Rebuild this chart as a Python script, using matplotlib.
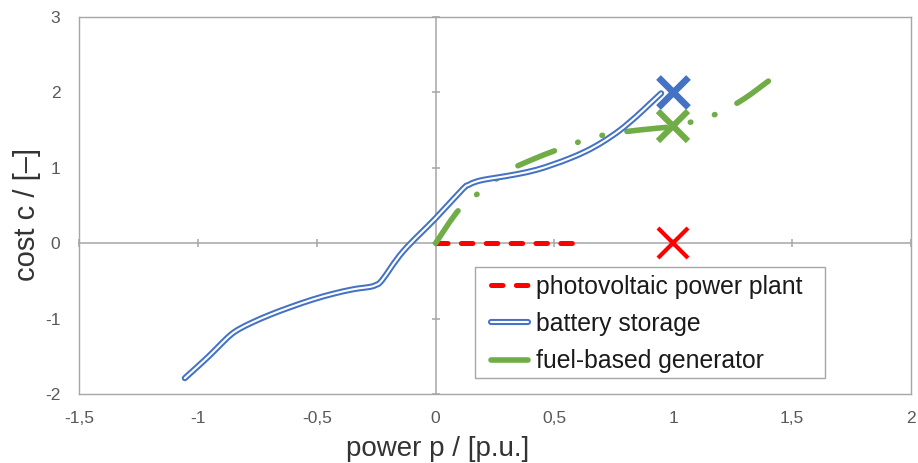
import matplotlib
matplotlib.use("Agg")
import matplotlib.pyplot as plt
import matplotlib.patheffects as pe
from matplotlib.patches import Rectangle, PathPatch
from matplotlib.path import Path
from matplotlib.lines import Line2D

plt.rcParams['font.family'] = ['Liberation Sans', 'DejaVu Sans']
plt.rcParams['lines.scale_dashes'] = False

# ---------------- data ----------------
pv_x = [0.0, 0.6]
pv_y = [0.0, 0.0]

battery_x = [-1.055, -0.978, -0.935, -0.894, -0.858, -0.823, -0.767, -0.697, -0.613,
             -0.515, -0.43, -0.361, -0.318, -0.277, -0.252, -0.225,
             -0.137, 0.003, 0.115, 0.14, 0.165, 0.2, 0.257, 0.341,
             0.424, 0.495, 0.564, 0.636, 0.704, 0.776, 0.844, 0.902, 0.949]
battery_y = [-1.79, -1.57, -1.44, -1.31, -1.205, -1.133, -1.045, -0.95, -0.85,
             -0.745, -0.67, -0.62, -0.597, -0.58, -0.555, -0.49,
             -0.11, 0.34, 0.72, 0.775, 0.81, 0.84, 0.87, 0.915,
             0.973, 1.045, 1.125, 1.225, 1.345, 1.50, 1.68, 1.85, 1.988]

fuel_x = [0.0, 0.1, 0.2, 0.3, 0.4, 0.5, 0.6, 0.7, 0.8, 0.9, 1.0, 1.1, 1.2, 1.3, 1.4]
fuel_y = [0.0, 0.45, 0.71, 0.95, 1.10, 1.225, 1.34, 1.43, 1.48, 1.515, 1.55, 1.63, 1.74, 1.92, 2.15]

marker_x = [1.0, 1.0, 1.0]
marker_y = [0.0, 2.0, 1.55]

series_names = ['photovoltaic power plant', 'battery storage', 'fuel-based generator']

x_ticks = [-1.5, -1.0, -0.5, 0.0, 0.5, 1.0, 1.5, 2.0]
x_tick_labels = ['-1,5', '-1', '-0,5', '0', '0,5', '1', '1,5', '2']
y_ticks = [-2, -1, 0, 1, 2, 3]
y_tick_labels = ['-2', '-1', '0', '1', '2', '3']

x_label = 'power p / [p.u.]'
y_label = 'cost c / [–]'


def smooth_path(xs, ys):
    """Excel-like smoothed line: Catmull-Rom segments drawn as cubic Beziers."""
    pts = list(zip(xs, ys))
    n = len(pts)
    verts = [pts[0]]
    codes = [Path.MOVETO]
    for i in range(n - 1):
        p0 = pts[i - 1] if i > 0 else pts[i]
        p1 = pts[i]
        p2 = pts[i + 1]
        p3 = pts[i + 2] if i + 2 < n else pts[i + 1]
        c1 = (p1[0] + (p2[0] - p0[0]) / 6, p1[1] + (p2[1] - p0[1]) / 6)
        c2 = (p2[0] - (p3[0] - p1[0]) / 6, p2[1] - (p3[1] - p1[1]) / 6)
        verts += [c1, c2, p2]
        codes += [Path.CURVE4] * 3
    return Path(verts, codes)


# ---------------- styling ----------------
W, H = 918, 463
RED = '#FF0000'
BLUE = '#4472C4'
GREEN = '#70AD47'
GRID = '#A6A6A6'
TXT = '#595959'

fig = plt.figure(figsize=(W / 100, H / 100), dpi=100)
pos = [79 / W, 1 - 394 / H, (911 - 79) / W, (394 - 17) / H]

# background axes: zero lines with crossing ticks
axb = fig.add_axes(pos, zorder=0)
axb.set_xlim(-1.5, 2)
axb.set_ylim(-2, 3)
axb.spines['left'].set_position(('data', 0))
axb.spines['bottom'].set_position(('data', 0))
axb.spines['top'].set_visible(False)
axb.spines['right'].set_visible(False)
for s in ('left', 'bottom'):
    axb.spines[s].set_color(GRID)
    axb.spines[s].set_linewidth(1.1)
axb.set_xticks(x_ticks)
axb.set_yticks(y_ticks)
axb.tick_params(direction='inout', length=5.8, width=1.1, color=GRID,
                labelbottom=False, labelleft=False)

# main axes
ax = fig.add_axes(pos, zorder=1)
ax.patch.set_alpha(0)
ax.set_xlim(-1.5, 2)
ax.set_ylim(-2, 3)
for s in ax.spines.values():
    s.set_color(GRID)
    s.set_linewidth(1.0)
ax.set_xticks(x_ticks, x_tick_labels)
ax.set_yticks(y_ticks, y_tick_labels)
ax.tick_params(axis='both', length=0, labelsize=12.5, labelcolor=TXT)
ax.tick_params(axis='x', pad=12.5)
ax.tick_params(axis='y', pad=13.5)

# series
pv_dash = (8.3, 9.6)
fuel_dash = (28.4, 17.8, 0.4, 17.8, 0.4, 17.8)

ax.plot(pv_x, pv_y, color=RED, lw=3.6, dashes=pv_dash,
        dash_capstyle='round', solid_capstyle='round', zorder=3)

fuel_patch = PathPatch(smooth_path(fuel_x, fuel_y), fill=False, edgecolor=GREEN,
                       lw=4.0, linestyle=(0, fuel_dash), capstyle='round',
                       joinstyle='round', zorder=3)
ax.add_patch(fuel_patch)

bat_effects = [pe.Stroke(linewidth=4.4, foreground=BLUE), pe.Normal()]
bat_patch = PathPatch(smooth_path(battery_x, battery_y), fill=False, edgecolor='white',
                      lw=1.5, capstyle='round', joinstyle='round', zorder=4,
                      path_effects=bat_effects)
ax.add_patch(bat_patch)

marker_colors = [RED, BLUE, GREEN]
marker_widths = [3.0, 4.8, 4.4]
for mx, my, mc, mw in zip(marker_x, marker_y, marker_colors, marker_widths):
    ax.plot([mx], [my], ls='none', marker='x', ms=21.5, mew=mw, color=mc, zorder=6)

# legend handles
h_pv = Line2D([], [], color=RED, lw=3.6, dashes=pv_dash, dash_capstyle='round')
h_bat = Line2D([], [], color='white', lw=1.5, solid_capstyle='round',
               path_effects=bat_effects)
h_fuel = Line2D([], [], color=GREEN, lw=4.0, dashes=fuel_dash, dash_capstyle='round')

# legend box
ax.add_patch(Rectangle((475 / W, 1 - 378 / H), 350 / W, 111 / H,
                       transform=fig.transFigure, facecolor='white',
                       edgecolor=GRID, lw=1.0, zorder=7, clip_on=False))
leg = ax.legend(handles=[h_pv, h_bat, h_fuel], labels=series_names, loc='upper left',
                bbox_to_anchor=(491 / W, 1 - 275 / H), bbox_transform=fig.transFigure,
                frameon=False, borderpad=0, borderaxespad=0, fontsize=17.8,
                handlelength=1.49, handletextpad=0.35, labelspacing=0.53,
                labelcolor='#1a1a1a')
leg.set_zorder(8)

# axis titles
fig.text(438 / W, 1 - 456 / H, x_label, ha='center', va='baseline',
         fontsize=20, color='#333333')
fig.text(27 / W, 1 - 214 / H, y_label, ha='center', va='center', rotation=90,
         fontsize=21, color='#333333')

fig.savefig('out.png', dpi=100)
